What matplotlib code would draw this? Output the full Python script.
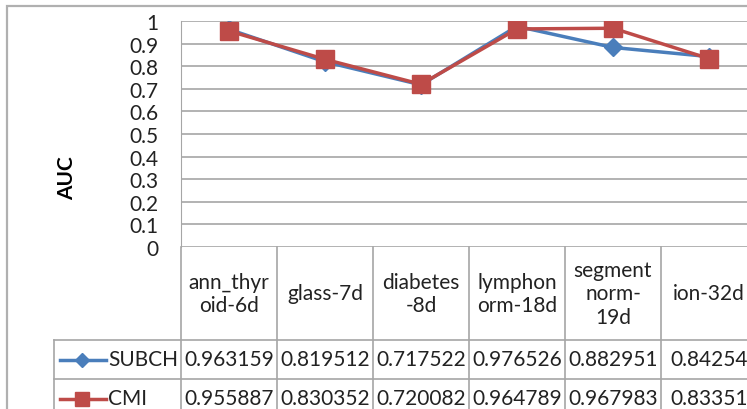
import matplotlib
matplotlib.use('Agg')
import matplotlib.pyplot as plt
from matplotlib.lines import Line2D

# AUC por conjunto de datos
categorias = ['ann_thyr\noid-6d', 'glass-7d', 'diabetes\n-8d', 'lymphon\norm-18d',
              'segment\nnorm-\n19d', 'ion-32d']
subch = [0.963159, 0.819512, 0.717522, 0.976526, 0.882951, 0.84254]
cmi = [0.955887, 0.830352, 0.720082, 0.964789, 0.967983, 0.83351]
series = ['SUBCH', 'CMI']
y_ticks = [0, 0.1, 0.2, 0.3, 0.4, 0.5, 0.6, 0.7, 0.8, 0.9, 1]

AZUL = '#4A7EBB'
ROJO = '#BE4B48'
GRIS = '#A6A6A6'

W, H = 747, 410
plt.rcParams['font.family'] = ['Lato', 'DejaVu Sans']
plt.rcParams['font.size'] = 15


def px(x0, y0, x1, y1):
    # caja en pixeles (desde arriba a la izquierda) -> fraccion de figura
    return [x0 / W, 1 - y1 / H, (x1 - x0) / W, (y1 - y0) / H]


fig = plt.figure(figsize=(W / 100, H / 100), dpi=100)
fig.patch.set_facecolor('white')

# borde exterior del grafico
borde = plt.Rectangle((7 / W, -0.1), 1.2, 1 - 7 / H + 0.1, transform=fig.transFigure,
                      fill=False, edgecolor='#B0B0B0', linewidth=1.6)
fig.add_artist(borde)

ax = fig.add_axes(px(181, 22, 757, 248))
x = list(range(len(categorias)))
ax.plot(x, subch, color=AZUL, linewidth=2.5, marker='D', markersize=9,
        markerfacecolor=AZUL, markeredgecolor=AZUL, zorder=3)
ax.plot(x, cmi, color=ROJO, linewidth=2.5, marker='s', markersize=13,
        markerfacecolor=ROJO, markeredgecolor=ROJO, zorder=4)
ax.set_xlim(-0.5, len(categorias) - 0.5)
ax.set_ylim(0, 1)
ax.set_yticks(y_ticks)
ax.set_yticklabels([f'{t:g}' for t in y_ticks])
ax.set_xticks([])
ax.tick_params(axis='y', length=0, pad=16.5, colors='#222222')
ax.grid(axis='y', color=GRIS, linewidth=1.2)
ax.set_axisbelow(True)
for lado in ['top', 'right', 'bottom']:
    ax.spines[lado].set_visible(False)
ax.spines['left'].set_color(GRIS)
ax.set_ylabel('AUC', fontweight='bold')
ax.yaxis.set_label_coords(-0.18, 0.31)

# tabla de datos bajo el grafico
tab = fig.add_axes(px(181, 248, 757, 430))
tab.set_xlim(-0.5, len(categorias) - 0.5)
tab.set_ylim(430, 248)
tab.axis('off')
ancho = (757 - 181) / len(categorias)
izq = -0.5 - (181 - 54) / ancho
filas_y = [(341, 380), (380, 419)]

for i in range(len(categorias) + 1):
    tab.plot([i - 0.5, i - 0.5], [248, 430], color=GRIS, linewidth=1.2, clip_on=False)
for yf in [341, 380, 419]:
    tab.plot([izq, len(categorias)], [yf, yf], color=GRIS, linewidth=1.2, clip_on=False)
tab.plot([izq, izq], [341, 430], color=GRIS, linewidth=1.2, clip_on=False)

for i, c in enumerate(categorias):
    tab.text(i, 294.5, c, ha='center', va='center', linespacing=1.2, color='#222222')

filas = [(subch, AZUL, 'D', 7), (cmi, ROJO, 's', 10)]
for (vals, col, mk, ms), nombre, (y0, y1) in zip(filas, series, filas_y):
    yc = (y0 + y1) / 2
    tab.add_line(Line2D([izq + 6 / ancho, izq + 52 / ancho], [yc, yc], color=col,
                        linewidth=2.5, clip_on=False))
    tab.plot([izq + 28 / ancho], [yc], marker=mk, markersize=ms, color=col, clip_on=False)
    tab.text(izq + 54 / ancho, yc, nombre, ha='left', va='center', color='#222222')
    for i, v in enumerate(vals):
        tab.text(i, yc, f'{v:g}', ha='center', va='center', color='#222222')

fig.savefig('out.png', dpi=100)
